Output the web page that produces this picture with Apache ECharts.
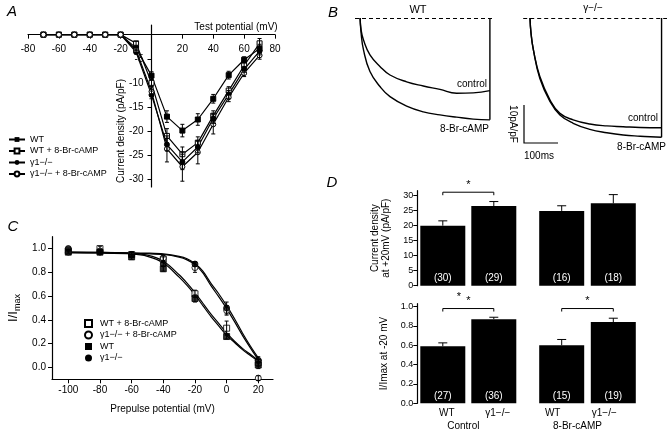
<!DOCTYPE html>
<html>
<head>
<meta charset="utf-8">
<script src="https://cdn.jsdelivr.net/npm/echarts@6/dist/echarts.min.js"></script>
<style>
  html, body { margin: 0; padding: 0; background: #fff; }
  #fig { width: 671px; height: 434px; }
</style>
</head>
<body>
<div id="fig"></div>
<script>
// series names (shared by panels A and C)
var WT = 'WT', WT_C = 'WT + 8-Br-cAMP', KO = 'γ1−/−', KO_C = 'γ1−/− + 8-Br-cAMP';

// ---- A: current density vs test potential
var testPotential = [-70, -60, -50, -40, -30, -20, -10, 0, 10, 20, 30, 40, 50, 60, 70];
var ivWT    = [0, 0, 0, 0, 0, 0, -2.8, -8.5, -17.0, -19.9, -17.6, -13.3, -8.4, -5.2, -2.9];
var ivWTc   = [0, 0, 0, 0, 0, 0, -1.8, -10.0, -21.0, -24.8, -22.4, -16.8, -11.6, -6.4, -1.8];
var ivKO    = [0, 0, 0, 0, 0, 0, -3.6, -12.5, -22.8, -26.4, -23.3, -17.4, -12.4, -7.2, -3.4];
var ivKOc   = [0, 0, 0, 0, 0, 0, -3.2, -11.8, -23.7, -27.4, -24.4, -18.6, -13.0, -8.0, -4.3];
var ivErrWT  = [0, 0, 0, 0, 0, 0, 0.4, 0.8, 1.2, 1.3, 1.2, 0.9, 0.8, 0.6, 0.9];
var ivErrWTc = [0, 0, 0, 0, 0, 0, 0.4, 0.8, 1.5, 1.5, 1.2, 1.0, 0.8, 0.6, 1.0];
var ivErrKO  = [0, 0, 0, 0, 0, 0, 0.4, 0.8, 1.3, 1.6, 1.2, 1.0, 0.8, 0.6, 0.8];
var ivErrKOc = [0, 0, 0, 0, 0, 0, 0.5, 1.0, 2.7, 3.0, 2.4, 2.0, 0.9, 0.7, 0.8];

// ---- B: current traces (ms, pA/pF)
var traceTimeWT = [0, 3, 10, 29, 59, 88, 137, 186, 235, 284, 333, 382];
var traceWTctl  = [0, -3.2, -5.8, -9.7, -12.8, -15.0, -16.8, -17.9, -18.8, -19.8, -19.7, -19.1];
var traceWTcamp = [0, -4.0, -8.4, -14.1, -18.1, -20.7, -23.2, -24.7, -25.5, -26.1, -26.6, -26.8];
var traceTimeKO = [0, 3, 10, 29, 59, 88, 127, 176, 226, 274, 324, 387];
var traceKOctl  = [0, -4.0, -8.4, -15.4, -21.6, -25.1, -26.8, -27.9, -28.4, -28.6, -28.8, -28.9];
var traceKOcamp = [0, -4.0, -8.4, -15.9, -22.0, -25.5, -27.7, -29.3, -30.2, -30.8, -31.1, -31.4];

// ---- C: steady-state inactivation
var prepulse = [-100, -80, -60, -40, -20, 0, 20];
var inWTc = [0.98, 1.00, 0.95, 0.91, 0.62, 0.33, 0.04];
var inKOc = [0.97, 0.98, 0.95, 0.92, 0.84, 0.48, -0.09];
var inWT  = [0.97, 0.97, 0.93, 0.83, 0.58, 0.26, 0.02];
var inKO  = [1.00, 0.97, 0.95, 0.87, 0.87, 0.50, 0.06];
var inErrWTc = [0.01, 0.02, 0.02, 0.02, 0.03, 0.06, 0.03];
var inErrKOc = [0.01, 0.01, 0.02, 0.02, 0.04, 0.04, 0.02];
var inErrWT  = [0, 0.01, 0.02, 0.02, 0.03, 0.02, 0.03];
var inErrKO  = [0, 0.01, 0.02, 0.02, 0.02, 0.05, 0.03];
// fitted curves
var fitV   = [-100, -80, -60, -50, -40, -30, -25, -20, -15, -10, -5, 0, 5, 10, 15, 20];
var fitWT  = [0.965, 0.963, 0.955, 0.935, 0.88, 0.76, 0.69, 0.61, 0.52, 0.43, 0.35, 0.27, 0.21, 0.15, 0.10, 0.05];
var fitWTc = [0.97, 0.968, 0.96, 0.945, 0.895, 0.78, 0.71, 0.63, 0.54, 0.45, 0.37, 0.29, 0.22, 0.16, 0.11, 0.06];
var fitKO  = [0.965, 0.963, 0.96, 0.957, 0.95, 0.928, 0.905, 0.865, 0.795, 0.69, 0.595, 0.495, 0.385, 0.27, 0.165, 0.065];
var fitKOc = [0.97, 0.968, 0.965, 0.962, 0.955, 0.935, 0.915, 0.875, 0.81, 0.71, 0.62, 0.52, 0.41, 0.29, 0.18, 0.08];

// ---- D: bar summaries
var genotypes = ['WT', 'γ1−/−'];
var densCtl = [19.9, 26.4], densCtlErr = [1.6, 1.5], densCtlN = [30, 29];
var densCamp = [24.8, 27.3], densCampErr = [1.7, 2.9], densCampN = [16, 18];
var inactCtl = [0.59, 0.87], inactCtlErr = [0.035, 0.02], inactCtlN = [27, 36];
var inactCamp = [0.60, 0.84], inactCampErr = [0.06, 0.04], inactCampN = [15, 19];

var FF = 'Liberation Sans, Arial, Helvetica, sans-serif';
var INK = '#000';

function pairs(xs, ys) { return xs.map(function (x, i) { return [x, ys[i]]; }); }
function triples(xs, ys, es) { return xs.map(function (x, i) { return [x, ys[i], es[i]]; }); }

function errSeries(g, data, cap, upOnly) {
  return {
    type: 'custom', xAxisIndex: g, yAxisIndex: g, data: data, silent: true, z: 6,
    renderItem: function (params, api) {
      var x = api.value(0), y = api.value(1), e = api.value(2);
      if (!e) return;
      var hi = api.coord([x, y + e]), lo = api.coord([x, upOnly ? y : y - e]);
      var h = cap / 2, st = { stroke: INK, lineWidth: 1 };
      var kids = [
        { type: 'line', shape: { x1: hi[0], y1: hi[1], x2: lo[0], y2: lo[1] }, style: st },
        { type: 'line', shape: { x1: hi[0] - h, y1: hi[1], x2: hi[0] + h, y2: hi[1] }, style: st }
      ];
      if (!upOnly) kids.push({ type: 'line', shape: { x1: lo[0] - h, y1: lo[1], x2: lo[0] + h, y2: lo[1] }, style: st });
      return { type: 'group', children: kids };
    }
  };
}

function bracket(g, y) {
  return {
    type: 'custom', xAxisIndex: g, yAxisIndex: g, silent: true, z: 6,
    encode: { x: 0, y: 2 },
    data: [[0, 1, y]],
    renderItem: function (params, api) {
      var a = api.coord([0, api.value(2)]), b = api.coord([1, api.value(2)]);
      return { type: 'group', children: [
        { type: 'polyline', shape: { points: [[a[0], a[1] + 3], a, b, [b[0], b[1] + 3]] }, style: { stroke: INK, lineWidth: 1, fill: null } },
        { type: 'text', x: (a[0] + b[0]) / 2, y: a[1] - 2, style: { text: '*', fontSize: 11, fontFamily: FF, fill: INK, align: 'center', verticalAlign: 'bottom' } }
      ] };
    }
  };
}

function ivLine(name, ys, symbol, open) {
  return {
    name: name, type: 'line', xAxisIndex: 0, yAxisIndex: 0, data: pairs(testPotential, ys),
    symbol: symbol, symbolSize: 5, z: 4,
    lineStyle: { color: INK, width: 1.2 },
    itemStyle: open ? { color: '#fff', borderColor: INK, borderWidth: 1 } : { color: INK, borderColor: INK }
  };
}

function inPoints(name, ys, symbol, open) {
  return {
    name: name, type: 'scatter', xAxisIndex: 3, yAxisIndex: 3, data: pairs(prepulse, ys),
    symbol: symbol, symbolSize: 6, z: 5,
    itemStyle: open ? { color: '#fff', borderColor: INK, borderWidth: 1 } : { color: INK, borderColor: INK }
  };
}

function fitLine(ys) {
  return {
    type: 'line', xAxisIndex: 3, yAxisIndex: 3, data: pairs(fitV, ys), smooth: 0.3,
    showSymbol: false, silent: true, lineStyle: { color: INK, width: 1.2 }
  };
}

function trace(g, ts, ys, baseline) {
  var s = {
    type: 'line', xAxisIndex: g, yAxisIndex: g, data: pairs(ts, ys), smooth: 0.45,
    showSymbol: false, silent: true, lineStyle: { color: INK, width: 1.4 }
  };
  if (baseline) {
    s.markLine = { silent: true, symbol: 'none', label: { show: false },
      lineStyle: { type: [4, 3], color: INK, width: 1.1 }, data: [{ yAxis: 0 }] };
  }
  return s;
}

function traceEnd(g, ts, ys) {
  var t = ts[ts.length - 1];
  return {
    type: 'line', xAxisIndex: g, yAxisIndex: g, data: [[t, ys[ys.length - 1]], [t, 0]],
    showSymbol: false, silent: true, lineStyle: { color: INK, width: 1.4 }
  };
}

function bars(g, vals, ns) {
  return {
    type: 'bar', xAxisIndex: g, yAxisIndex: g, data: vals, barWidth: 45,
    itemStyle: { color: INK },
    label: { show: true, position: 'insideBottom', distance: 2, color: '#fff', fontSize: 10, fontFamily: FF,
      formatter: function (p) { return '(' + ns[p.dataIndex] + ')'; } }
  };
}

var axisLineStyle = { color: INK, width: 1.2 };
var lbl = { color: INK, fontSize: 10, fontFamily: FF };

function dBarX(g, showLabels, groupName, labelPad, namePad) {
  return {
    gridIndex: g, type: 'category', data: genotypes,
    axisLine: { show: false }, axisTick: { show: false },
    axisLabel: { show: showLabels, color: INK, fontSize: 10, fontFamily: FF, margin: 5, padding: labelPad },
    name: groupName, nameLocation: 'middle', nameGap: 18,
    nameTextStyle: { color: INK, fontSize: 10, fontFamily: FF, padding: namePad }
  };
}

// panel A frame: x -80..80 over 247 px, y +2..-31.6 over 162 px; axes cross at (0, 0)
var gridA = { left: 28, top: 25, width: 247, height: 162 };
var xMinA = -80, xMaxA = 80, yMinA = -31.6, yMaxA = 2;
var yAxisShiftA = -gridA.width * (0 - xMinA) / (xMaxA - xMinA);
var xAxisShiftA = -gridA.height * (0 - yMinA) / (yMaxA - yMinA);

var chart = echarts.init(document.getElementById('fig'), null, { renderer: 'canvas' });

chart.setOption({
  animation: false,
  backgroundColor: '#fff',
  textStyle: { fontFamily: FF },
  grid: [
    gridA,                                                     // A
    { left: 355, top: 16.1, width: 140, height: 123.5 },     // B WT
    { left: 523.2, top: 16.1, width: 143.8, height: 123.5 }, // B γ
    { left: 52, top: 236.7, width: 221, height: 142.6 },     // C
    { left: 417.3, top: 190.7, width: 102, height: 95 },     // D top control
    { left: 535.9, top: 190.7, width: 103.2, height: 95 },   // D top cAMP
    { left: 417.3, top: 303.7, width: 102, height: 99.6 },   // D bottom control
    { left: 535.9, top: 303.7, width: 103.2, height: 99.6 }  // D bottom cAMP
  ],
  xAxis: [
    { gridIndex: 0, type: 'value', min: xMinA, max: xMaxA, interval: 20, position: 'bottom', offset: xAxisShiftA,
      axisLine: { onZero: false, lineStyle: axisLineStyle },
      axisTick: { length: 4, lineStyle: { color: INK } },
      axisLabel: Object.assign({ margin: 10, formatter: function (v) { return v === 0 ? '' : v; } }, lbl),
      splitLine: { show: false } },
    { gridIndex: 1, type: 'value', min: -15, max: 397, show: false },
    { gridIndex: 2, type: 'value', min: -20, max: 403, show: false },
    { gridIndex: 3, type: 'value', min: -110.3, max: 29.3,
      axisLine: { onZero: false, lineStyle: axisLineStyle },
      axisTick: { length: 4, lineStyle: { color: INK }, customValues: [-100, -80, -60, -40, -20, 0, 20] },
      axisLabel: Object.assign({ margin: 6, customValues: [-100, -80, -60, -40, -20, 0, 20] }, lbl),
      splitLine: { show: false },
      name: 'Prepulse potential (mV)', nameLocation: 'middle', nameGap: 25,
      nameTextStyle: { color: INK, fontSize: 10, fontFamily: FF } },
    dBarX(4, false, '', 0, 0),
    dBarX(5, false, '', 0, 0),
    dBarX(6, true, 'Control', [0, 0, 0, 8], [0, 10, 0, 0]),
    dBarX(7, true, '8-Br-cAMP', [0, 18, 0, 0], [0, 20, 0, 0])
  ],
  yAxis: [
    { gridIndex: 0, type: 'value', min: yMinA, max: yMaxA, position: 'left', offset: yAxisShiftA,
      axisLine: { onZero: false, lineStyle: axisLineStyle },
      axisTick: { length: 4, lineStyle: { color: INK }, customValues: [-30, -25, -20, -15, -10, -5] },
      axisLabel: Object.assign({ margin: 8, customValues: [-30, -25, -20, -15, -10, -5] }, lbl),
      splitLine: { show: false } },
    { gridIndex: 1, type: 'value', min: -32, max: 0.5, show: false },
    { gridIndex: 2, type: 'value', min: -32, max: 0.5, show: false },
    { gridIndex: 3, type: 'value', min: -0.1, max: 1.1,
      axisLine: { show: true, onZero: false, lineStyle: axisLineStyle },
      axisTick: { show: true, length: 4, lineStyle: { color: INK }, customValues: [0, 0.2, 0.4, 0.6, 0.8, 1.0] },
      axisLabel: Object.assign({ margin: 6, customValues: [0, 0.2, 0.4, 0.6, 0.8, 1.0],
        formatter: function (v) { return v.toFixed(1); } }, lbl),
      splitLine: { show: false },
      name: '{i|I/I}{s|max}', nameLocation: 'middle', nameGap: 30, nameRotate: 90,
      nameTextStyle: { color: INK, fontFamily: FF, rich: {
        i: { fontSize: 13, fontFamily: FF, lineHeight: 18, verticalAlign: 'middle' },
        s: { fontSize: 9, fontFamily: FF, lineHeight: 18, verticalAlign: 'bottom', padding: [6, 0, 0, 0] } } } },
    { gridIndex: 4, type: 'value', min: 0, max: 31.5,
      axisLine: { show: true, lineStyle: axisLineStyle },
      axisTick: { show: true, length: 4, lineStyle: { color: INK }, customValues: [0, 5, 10, 15, 20, 25, 30] },
      axisLabel: { color: INK, fontSize: 9, fontFamily: FF, margin: 4, customValues: [0, 5, 10, 15, 20, 25, 30] },
      splitLine: { show: false },
      name: 'Current density\nat +20mV (pA/pF)', nameLocation: 'middle', nameGap: 26, nameRotate: 90,
      nameTextStyle: { color: INK, fontSize: 10, fontFamily: FF, lineHeight: 11 } },
    { gridIndex: 5, type: 'value', min: 0, max: 31.5, show: false },
    { gridIndex: 6, type: 'value', min: 0, max: 1.03,
      axisLine: { show: true, lineStyle: axisLineStyle },
      axisTick: { show: true, length: 4, lineStyle: { color: INK }, customValues: [0, 0.2, 0.4, 0.6, 0.8, 1.0] },
      axisLabel: { color: INK, fontSize: 9, fontFamily: FF, margin: 4, customValues: [0, 0.2, 0.4, 0.6, 0.8, 1.0],
        formatter: function (v) { return v.toFixed(1); } },
      splitLine: { show: false },
      name: 'I/Imax at -20 mV', nameLocation: 'middle', nameGap: 28, nameRotate: 90,
      nameTextStyle: { color: INK, fontSize: 10, fontFamily: FF } },
    { gridIndex: 7, type: 'value', min: 0, max: 1.03, show: false }
  ],
  legend: [
    { data: [WT, WT_C, KO, KO_C], orient: 'vertical', left: 8, top: 135, padding: 0,
      itemWidth: 16, itemHeight: 6, itemGap: 2.5, selectedMode: false,
      textStyle: { color: INK, fontSize: 9, fontFamily: FF } },
    { data: [{ name: WT_C, icon: 'rect' }, { name: KO_C, icon: 'circle' }, { name: WT, icon: 'rect' }, { name: KO, icon: 'circle' }],
      orient: 'vertical', left: 84, top: 319, padding: 0,
      itemWidth: 7, itemHeight: 7, itemGap: 2.5, selectedMode: false,
      textStyle: { color: INK, fontSize: 9, fontFamily: FF, padding: [0, 0, 0, 3] } }
  ],
  graphic: [
    { type: 'text', x: 12, y: 12, style: { text: 'A', fontSize: 15, fontStyle: 'italic', fontFamily: FF, fill: INK, align: 'center', verticalAlign: 'middle' } },
    { type: 'text', x: 333, y: 13, style: { text: 'B', fontSize: 15, fontStyle: 'italic', fontFamily: FF, fill: INK, align: 'center', verticalAlign: 'middle' } },
    { type: 'text', x: 13, y: 227, style: { text: 'C', fontSize: 15, fontStyle: 'italic', fontFamily: FF, fill: INK, align: 'center', verticalAlign: 'middle' } },
    { type: 'text', x: 332, y: 183, style: { text: 'D', fontSize: 15, fontStyle: 'italic', fontFamily: FF, fill: INK, align: 'center', verticalAlign: 'middle' } },
    { type: 'text', x: 236, y: 27, style: { text: 'Test potential (mV)', fontSize: 10, fontFamily: FF, fill: INK, align: 'center', verticalAlign: 'middle' } },
    { type: 'text', x: 121, y: 131, rotation: Math.PI / 2, style: { text: 'Current density (pA/pF)', fontSize: 10, fontFamily: FF, fill: INK, align: 'center', verticalAlign: 'middle' } },
    { type: 'text', x: 418, y: 10, style: { text: 'WT', fontSize: 11, fontFamily: FF, fill: INK, align: 'center', verticalAlign: 'middle' } },
    { type: 'text', x: 593, y: 8, style: { text: 'γ−/−', fontSize: 10, fontFamily: FF, fill: INK, align: 'center', verticalAlign: 'middle' } },
    { type: 'text', x: 472, y: 84, style: { text: 'control', fontSize: 10, fontFamily: FF, fill: INK, align: 'center', verticalAlign: 'middle' } },
    { type: 'text', x: 489, y: 129, style: { text: '8-Br-cAMP', fontSize: 10, fontFamily: FF, fill: INK, align: 'right', verticalAlign: 'middle' } },
    { type: 'text', x: 658, y: 118, style: { text: 'control', fontSize: 10, fontFamily: FF, fill: INK, align: 'right', verticalAlign: 'middle' } },
    { type: 'text', x: 666, y: 147, style: { text: '8-Br-cAMP', fontSize: 10, fontFamily: FF, fill: INK, align: 'right', verticalAlign: 'middle' } },
    { type: 'polyline', shape: { points: [[524, 105], [524, 143], [558, 143]] }, style: { stroke: INK, lineWidth: 1.2, fill: null } },
    { type: 'text', x: 513, y: 124, rotation: -Math.PI / 2, style: { text: '10pA/pF', fontSize: 10, fontFamily: FF, fill: INK, align: 'center', verticalAlign: 'middle' } },
    { type: 'text', x: 539, y: 156, style: { text: '100ms', fontSize: 10, fontFamily: FF, fill: INK, align: 'center', verticalAlign: 'middle' } },
    { type: 'text', x: 459, y: 297, style: { text: '*', fontSize: 11, fontFamily: FF, fill: INK, align: 'center', verticalAlign: 'middle' } }
  ],
  series: [
    // A
    ivLine(WT, ivWT, 'rect', false),
    ivLine(WT_C, ivWTc, 'rect', true),
    ivLine(KO, ivKO, 'circle', false),
    ivLine(KO_C, ivKOc, 'circle', true),
    errSeries(0, triples(testPotential, ivWT, ivErrWT)
      .concat(triples(testPotential, ivWTc, ivErrWTc))
      .concat(triples(testPotential, ivKO, ivErrKO))
      .concat(triples(testPotential, ivKOc, ivErrKOc)), 4, false),
    // B
    trace(1, traceTimeWT, traceWTctl, true),
    trace(1, traceTimeWT, traceWTcamp, false),
    traceEnd(1, traceTimeWT, traceWTcamp),
    trace(2, traceTimeKO, traceKOctl, true),
    trace(2, traceTimeKO, traceKOcamp, false),
    traceEnd(2, traceTimeKO, traceKOcamp),
    // C
    fitLine(fitWT), fitLine(fitWTc), fitLine(fitKO), fitLine(fitKOc),
    inPoints(WT_C, inWTc, 'rect', true),
    inPoints(KO_C, inKOc, 'circle', true),
    inPoints(WT, inWT, 'rect', false),
    inPoints(KO, inKO, 'circle', false),
    errSeries(3, triples(prepulse, inWTc, inErrWTc)
      .concat(triples(prepulse, inKOc, inErrKOc))
      .concat(triples(prepulse, inWT, inErrWT))
      .concat(triples(prepulse, inKO, inErrKO)), 4, false),
    // D
    bars(4, densCtl, densCtlN),
    bars(5, densCamp, densCampN),
    bars(6, inactCtl, inactCtlN),
    bars(7, inactCamp, inactCampN),
    errSeries(4, triples([0, 1], densCtl, densCtlErr), 9, true),
    errSeries(5, triples([0, 1], densCamp, densCampErr), 9, true),
    errSeries(6, triples([0, 1], inactCtl, inactCtlErr), 9, true),
    errSeries(7, triples([0, 1], inactCamp, inactCampErr), 9, true),
    bracket(4, 31),
    bracket(6, 0.98),
    bracket(7, 0.98)
  ]
});
</script>
</body>
</html>
